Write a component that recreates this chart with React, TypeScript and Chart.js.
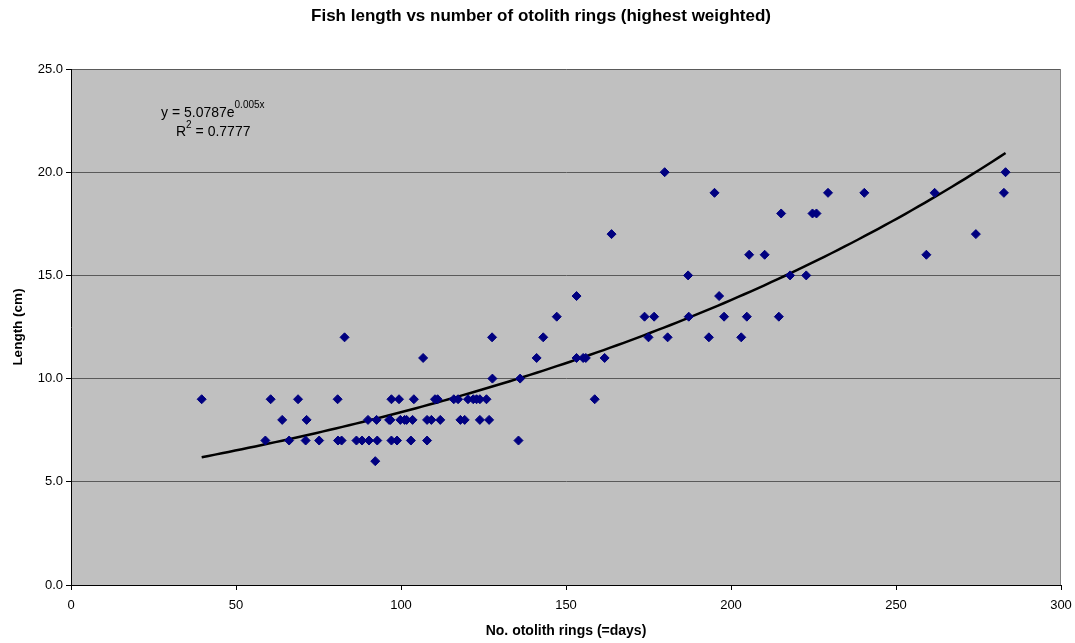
import React, { useEffect, useRef } from 'react';
import { Chart, registerables } from 'chart.js';

Chart.register(...registerables);

const TITLE = 'Fish length vs number of otolith rings (highest weighted)';
const X_TITLE = 'No. otolith rings (=days)';
const Y_TITLE = 'Length (cm)';

// Observed fish: number of otolith rings (x) and length in cm (y)
const rings = [
  179.9, 283.2,
  195.0, 229.4, 240.4, 261.7, 282.7,
  215.2, 224.7, 225.9,
  163.8, 274.2,
  205.5, 210.2, 259.2,
  187.0, 217.9, 222.8,
  153.2, 196.4,
  147.2, 173.8, 176.7, 187.2, 197.9, 204.8, 214.5,
  82.9, 127.6, 143.1, 175.0, 180.8, 193.3, 203.1,
  106.7, 141.1, 153.2, 155.2, 156.0, 161.7,
  127.7, 136.1,
  39.6, 60.5, 68.8, 80.8, 97.1, 99.4, 103.9, 110.3, 111.1, 116.0, 117.3, 120.3, 121.9, 122.9, 123.9, 125.9, 158.7,
  64.0, 71.4, 90.0, 92.6, 96.4, 96.8, 99.8, 101.1, 101.7, 103.5, 107.9, 109.2, 111.9, 118.0, 119.3, 123.9, 126.7,
  58.9, 66.1, 71.1, 75.2, 80.9, 82.0, 86.5, 88.2, 90.3, 92.8, 97.1, 98.8, 103.0, 107.9, 135.6,
  92.2,
];
const lengths = [
  20, 20,
  19, 19, 19, 19, 19,
  18, 18, 18,
  17, 17,
  16, 16, 16,
  15, 15, 15,
  14, 14,
  13, 13, 13, 13, 13, 13, 13,
  12, 12, 12, 12, 12, 12, 12,
  11, 11, 11, 11, 11, 11,
  10, 10,
  9, 9, 9, 9, 9, 9, 9, 9, 9, 9, 9, 9, 9, 9, 9, 9, 9,
  8, 8, 8, 8, 8, 8, 8, 8, 8, 8, 8, 8, 8, 8, 8, 8, 8,
  7, 7, 7, 7, 7, 7, 7, 7, 7, 7, 7, 7, 7, 7, 7,
  6,
];

// Exponential trendline as shown on the chart: y = A * e^(B x)
const TREND_A = 5.0787;
const TREND_B = 0.005;
const TREND_A_LABEL = '5.0787';
const TREND_B_LABEL = '0.005x';
const R2_LABEL = '0.7777';

const X_MIN = 0;
const X_MAX = 300;
const X_STEP = 50;
const Y_MIN = 0;
const Y_MAX = 25;
const Y_STEP = 5;

const FONT = "'Liberation Sans', Arial, sans-serif";

export default function App() {
  const canvasRef = useRef<HTMLCanvasElement | null>(null);

  useEffect(() => {
    const canvas = canvasRef.current;
    if (!canvas) return;

    const points = rings.map((x, i) => ({ x, y: lengths[i] }));
    const xLo = Math.min(...rings);
    const xHi = Math.max(...rings);
    const trend: { x: number; y: number }[] = [];
    const n = 120;
    for (let i = 0; i <= n; i++) {
      const x = xLo + ((xHi - xLo) * i) / n;
      trend.push({ x, y: TREND_A * Math.exp(TREND_B * x) });
    }

    const background = {
      id: 'background',
      beforeDraw(chart: any) {
        const { ctx, chartArea, width, height } = chart;
        ctx.save();
        ctx.fillStyle = '#ffffff';
        ctx.fillRect(0, 0, width, height);
        ctx.fillStyle = '#c0c0c0';
        ctx.fillRect(chartArea.left, chartArea.top, chartArea.right - chartArea.left, chartArea.bottom - chartArea.top);
        ctx.restore();
      },
      beforeDatasetsDraw(chart: any) {
        const { ctx, chartArea } = chart;
        ctx.save();
        ctx.strokeStyle = '#808080';
        ctx.lineWidth = 1;
        ctx.beginPath();
        ctx.moveTo(Math.round(chartArea.right) - 0.5, chartArea.top);
        ctx.lineTo(Math.round(chartArea.right) - 0.5, chartArea.bottom);
        ctx.stroke();
        ctx.restore();
      },
    };

    const texts = {
      id: 'texts',
      afterDraw(chart: any) {
        const { ctx } = chart;
        ctx.save();
        ctx.fillStyle = '#000000';

        // chart title
        ctx.textAlign = 'center';
        ctx.textBaseline = 'middle';
        ctx.font = `bold 17px ${FONT}`;
        ctx.fillText(TITLE, 541, 16);

        // trendline equation
        ctx.textBaseline = 'alphabetic';
        ctx.textAlign = 'left';
        ctx.font = `14px ${FONT}`;
        let x = 161;
        const main = `y = ${TREND_A_LABEL}e`;
        ctx.fillText(main, x, 117);
        x += ctx.measureText(main).width;
        ctx.font = `10px ${FONT}`;
        ctx.fillText(TREND_B_LABEL, x, 108);

        ctx.font = `14px ${FONT}`;
        let x2 = 176;
        ctx.fillText('R', x2, 136);
        x2 += ctx.measureText('R').width;
        ctx.font = `10px ${FONT}`;
        ctx.fillText('2', x2, 128);
        x2 += ctx.measureText('2').width;
        ctx.font = `14px ${FONT}`;
        ctx.fillText(` = ${R2_LABEL}`, x2, 136);
        ctx.restore();
      },
    };

    const chart = new Chart(canvas, {
      type: 'scatter',
      data: {
        datasets: [
          {
            label: 'Length',
            data: points,
            pointStyle: 'rectRot',
            pointRadius: 4.5,
            pointHoverRadius: 4.5,
            backgroundColor: '#000080',
            borderColor: '#000080',
            borderWidth: 1,
          },
          {
            label: 'Expon. trend',
            data: trend,
            showLine: true,
            pointRadius: 0,
            borderColor: '#000000',
            borderWidth: 2.5,
            fill: false,
          } as any,
        ],
      },
      options: {
        responsive: false,
        animation: false,
        layout: { padding: { left: 0, right: 14, top: 69, bottom: 0 } },
        plugins: {
          legend: { display: false },
          tooltip: { enabled: false },
          title: { display: false },
        },
        scales: {
          x: {
            type: 'linear',
            min: X_MIN,
            max: X_MAX,
            afterFit(scale: any) {
              scale.height = 58;
              scale.paddingRight = 0;
              scale.paddingLeft = 0;
            },
            ticks: {
              stepSize: X_STEP,
              color: '#000000',
              font: { family: FONT, size: 13 },
              padding: 8,
            },
            grid: {
              drawOnChartArea: false,
              drawTicks: true,
              tickLength: 5,
              tickColor: '#000000',
            },
            border: { color: '#000000', width: 1 },
            title: {
              display: true,
              text: X_TITLE,
              color: '#000000',
              font: { family: FONT, size: 14, weight: 'bold' },
              padding: { top: 0, bottom: 3 },
            },
          },
          y: {
            type: 'linear',
            min: Y_MIN,
            max: Y_MAX,
            afterFit(scale: any) {
              scale.width = 71;
              scale.paddingTop = 0;
              scale.paddingBottom = 0;
            },
            ticks: {
              stepSize: Y_STEP,
              color: '#000000',
              font: { family: FONT, size: 13 },
              padding: 3,
              callback: (v: any) => Number(v).toFixed(1),
            },
            grid: {
              color: '#5a5a5a',
              lineWidth: 1,
              drawTicks: true,
              tickLength: 5,
              tickColor: '#000000',
            },
            border: { color: '#000000', width: 1 },
            title: {
              display: true,
              text: Y_TITLE,
              color: '#000000',
              font: { family: FONT, size: 13.5, weight: 'bold' },
              padding: { top: 10, bottom: 0 },
            },
          },
        },
      },
      plugins: [background, texts],
    });

    return () => chart.destroy();
  }, []);

  return (
    <div style={{ position: 'fixed', left: 0, top: 0, width: 1075, height: 643, background: '#ffffff' }}>
      <canvas ref={canvasRef} width={1075} height={643} />
    </div>
  );
}
